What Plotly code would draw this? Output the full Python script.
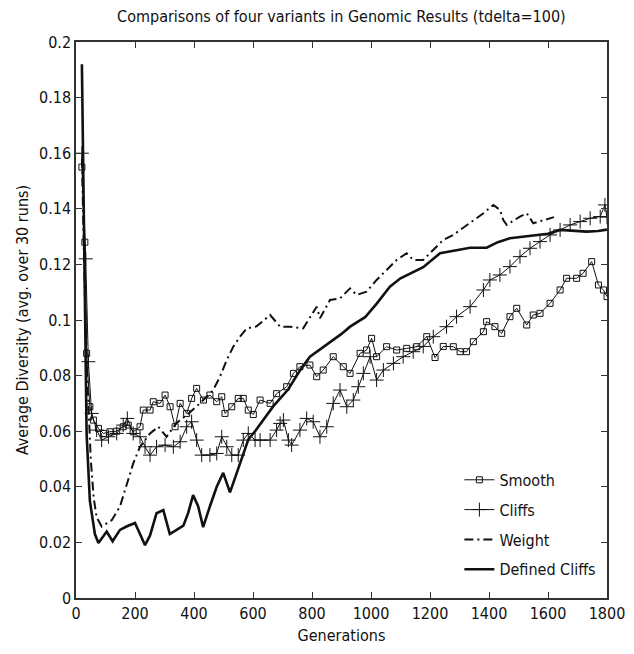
import plotly.graph_objects as go

# ---------------- data ----------------
defined_gen = [20, 30, 36, 47, 64, 76, 104, 124, 149, 171, 200, 217, 234, 251, 273, 296, 318, 341, 364, 380,
               397, 414, 431, 454, 477, 499, 522, 545, 567, 584, 607, 635, 669, 719, 760, 793, 850, 900, 929, 980,
               1020, 1064, 1100, 1140, 1177, 1234, 1280, 1336, 1392, 1430, 1471, 1520, 1562, 1600, 1641, 1690,
               1731, 1770, 1800]
defined_val = [0.192, 0.100, 0.059, 0.035, 0.023, 0.0198, 0.0239, 0.0204, 0.0245, 0.0257, 0.027, 0.023, 0.019,
               0.0225, 0.0305, 0.0316, 0.023, 0.0245, 0.026, 0.0305, 0.037, 0.033, 0.0255, 0.033, 0.040, 0.045,
               0.038, 0.045, 0.052, 0.057, 0.060, 0.064, 0.069, 0.075, 0.082, 0.0868, 0.091, 0.095, 0.0976, 0.101,
               0.106, 0.112, 0.115, 0.117, 0.119, 0.124, 0.125, 0.126, 0.126, 0.128, 0.1294, 0.130, 0.1306, 0.131,
               0.1324, 0.132, 0.1318, 0.132, 0.1325]

weight_gen = [20, 30, 40, 50, 60, 70, 87, 121, 149, 172, 194, 217, 251, 279, 307, 341, 375, 420, 465, 488, 511,
              533, 556, 579, 612, 658, 692, 725, 770, 816, 827, 861, 895, 929, 951, 985, 1019, 1053, 1087, 1121,
              1143, 1177, 1211, 1245, 1279, 1336, 1381, 1415, 1437, 1448, 1460, 1505, 1528, 1550, 1584, 1607, 1620]
weight_val = [0.158, 0.110, 0.075, 0.050, 0.036, 0.029, 0.0257, 0.028, 0.0329, 0.0406, 0.0484, 0.0544, 0.0592,
              0.0616, 0.058, 0.063, 0.0658, 0.070, 0.0748, 0.0796, 0.0856, 0.0904, 0.094, 0.097, 0.0977, 0.1018,
              0.0976, 0.0976, 0.097, 0.1048, 0.1006, 0.1072, 0.1078, 0.1114, 0.109, 0.1102, 0.1144, 0.118, 0.1216,
              0.124, 0.1216, 0.1216, 0.1252, 0.1288, 0.1306, 0.1348, 0.1384, 0.1414, 0.1396, 0.136, 0.1342, 0.1372,
              0.1384, 0.1348, 0.136, 0.1366, 0.137]

smooth_gen = [20, 30, 36, 47, 59, 76, 93, 115, 138, 160, 177, 194, 217, 228, 251, 262, 285, 302, 319, 336, 353,
              375, 392, 409, 432, 454, 477, 494, 505, 528, 550, 567, 584, 601, 624, 658, 680, 714, 737, 759, 793,
              816, 838, 872, 906, 929, 963, 985, 1002, 1019, 1053, 1087, 1121, 1155, 1189, 1217, 1245, 1279, 1302,
              1324, 1347, 1381, 1392, 1420, 1443, 1471, 1494, 1528, 1550, 1573, 1607, 1641, 1663, 1697, 1719, 1748,
              1771, 1788, 1800]
smooth_val = [0.155, 0.128, 0.088, 0.0688, 0.064, 0.061, 0.0592, 0.0598, 0.060, 0.0616, 0.0622, 0.0598, 0.0616,
              0.0676, 0.0676, 0.0706, 0.070, 0.073, 0.0688, 0.0616, 0.070, 0.0664, 0.0718, 0.0754, 0.0712, 0.073,
              0.0706, 0.0724, 0.0664, 0.0688, 0.0718, 0.0718, 0.0676, 0.066, 0.0712, 0.070, 0.0735, 0.076, 0.0808,
              0.0832, 0.0838, 0.0796, 0.082, 0.0868, 0.0832, 0.0808, 0.088, 0.0892, 0.0934, 0.0868, 0.0904, 0.0892,
              0.0898, 0.0904, 0.094, 0.0865, 0.0905, 0.0904, 0.0886, 0.0886, 0.0922, 0.0958, 0.0994, 0.0976, 0.0952,
              0.1012, 0.1042, 0.0982, 0.1018, 0.1024, 0.106, 0.1108, 0.115, 0.115, 0.1168, 0.121, 0.1126, 0.1108,
              0.1084]

cliffs_gen = [20, 33, 42, 53, 70, 87, 110, 138, 160, 174, 194, 217, 234, 251, 273, 302, 330, 353, 375, 392, 409,
              426, 454, 477, 494, 511, 528, 550, 567, 584, 607, 624, 658, 680, 692, 703, 720, 731, 759, 782, 804,
              827, 850, 872, 895, 918, 940, 957, 974, 997, 1019, 1042, 1076, 1109, 1143, 1177, 1211, 1256, 1290,
              1336, 1381, 1403, 1437, 1471, 1505, 1539, 1573, 1607, 1641, 1675, 1709, 1743, 1777, 1793, 1800]
cliffs_val = [0.160, 0.122, 0.085, 0.0664, 0.0604, 0.0568, 0.058, 0.0592, 0.0622, 0.0646, 0.0592, 0.058, 0.0544,
              0.0514, 0.0544, 0.055, 0.0544, 0.0562, 0.0616, 0.0634, 0.0568, 0.0514, 0.0514, 0.052, 0.058, 0.0544,
              0.0514, 0.0514, 0.0568, 0.0592, 0.0568, 0.0568, 0.0568, 0.0604, 0.0628, 0.064, 0.0568, 0.055, 0.0604,
              0.0646, 0.0634, 0.058, 0.0616, 0.070, 0.0748, 0.0688, 0.0712, 0.076, 0.0808, 0.0868, 0.0784, 0.082,
              0.0844, 0.0868, 0.0886, 0.0905, 0.094, 0.0976, 0.1012, 0.1048, 0.1108, 0.1144, 0.1162, 0.1192,
              0.1228, 0.1258, 0.1282, 0.1306, 0.1324, 0.1342, 0.1354, 0.1366, 0.1372, 0.1414, 0.137]

x_ticks = [0, 200, 400, 600, 800, 1000, 1200, 1400, 1600, 1800]
y_ticks = [0, 0.02, 0.04, 0.06, 0.08, 0.1, 0.12, 0.14, 0.16, 0.18, 0.2]
y_tick_text = ["0", "0.02", "0.04", "0.06", "0.08", "0.1", "0.12", "0.14", "0.16", "0.18", "0.2"]

# ---------------- figure ----------------
FONT = "Liberation Sans Narrow, Arial Narrow, DejaVu Sans Condensed, sans-serif"
INK = "#111111"
FS = 16

fig = go.Figure()
fig.add_trace(go.Scatter(
    x=smooth_gen, y=smooth_val, name="Smooth", mode="lines+markers", legendgroup="a",
    line=dict(color=INK, width=1),
    marker=dict(symbol="square-open", size=6, color=INK, line=dict(width=1, color=INK))))
fig.add_trace(go.Scatter(
    x=cliffs_gen, y=cliffs_val, name="Cliffs", mode="lines+markers", legendgroup="b",
    line=dict(color=INK, width=1),
    marker=dict(symbol="cross-thin", size=10, color=INK, line=dict(width=1, color=INK))))
fig.add_trace(go.Scatter(
    x=weight_gen, y=weight_val, name="Weight", mode="lines", legendgroup="c",
    line=dict(color=INK, width=2, dash="9px,4px,2px,4px")))
fig.add_trace(go.Scatter(
    x=defined_gen, y=defined_val, name="Defined Cliffs", mode="lines", legendgroup="d",
    line=dict(color=INK, width=2.6)))

axis_common = dict(
    showline=True, linecolor="#333333", linewidth=1.5, mirror="allticks",
    ticks="inside", ticklen=6, tickcolor="#333333", tickwidth=1,
    showgrid=False, zeroline=False, automargin=False,
    tickfont=dict(family=FONT, size=FS, color=INK),
)

fig.update_layout(
    width=634, height=654,
    margin=dict(l=76, r=27, t=42, b=56),
    paper_bgcolor="white", plot_bgcolor="white",
    font=dict(family=FONT, size=FS, color=INK),
    title=dict(text="Comparisons of four variants in Genomic Results (tdelta=100)",
               x=0.5385, xanchor="center", y=0.975, yanchor="middle",
               font=dict(family=FONT, size=FS, color=INK)),
    xaxis=dict(range=[0, 1800], tickvals=x_ticks,
               title=dict(text="Generations", standoff=8, font=dict(family=FONT, size=FS, color=INK)),
               **axis_common),
    yaxis=dict(range=[0, 0.2], tickvals=y_ticks, ticktext=y_tick_text,
               title=dict(text="Average Diversity (avg. over 30 runs)", standoff=6,
                          font=dict(family=FONT, size=FS, color=INK)),
               **axis_common),
    showlegend=True,
    legend=dict(x=0.722, y=0.243, xanchor="left", yanchor="top",
                bgcolor="rgba(0,0,0,0)", borderwidth=0,
                tracegroupgap=6, traceorder="grouped",
                font=dict(family=FONT, size=FS, color=INK)),
)

fig.write_html(
    "out.html",
    config={"displayModeBar": False},
    post_script="document.body.style.margin='0';document.body.style.overflow='hidden';",
)
